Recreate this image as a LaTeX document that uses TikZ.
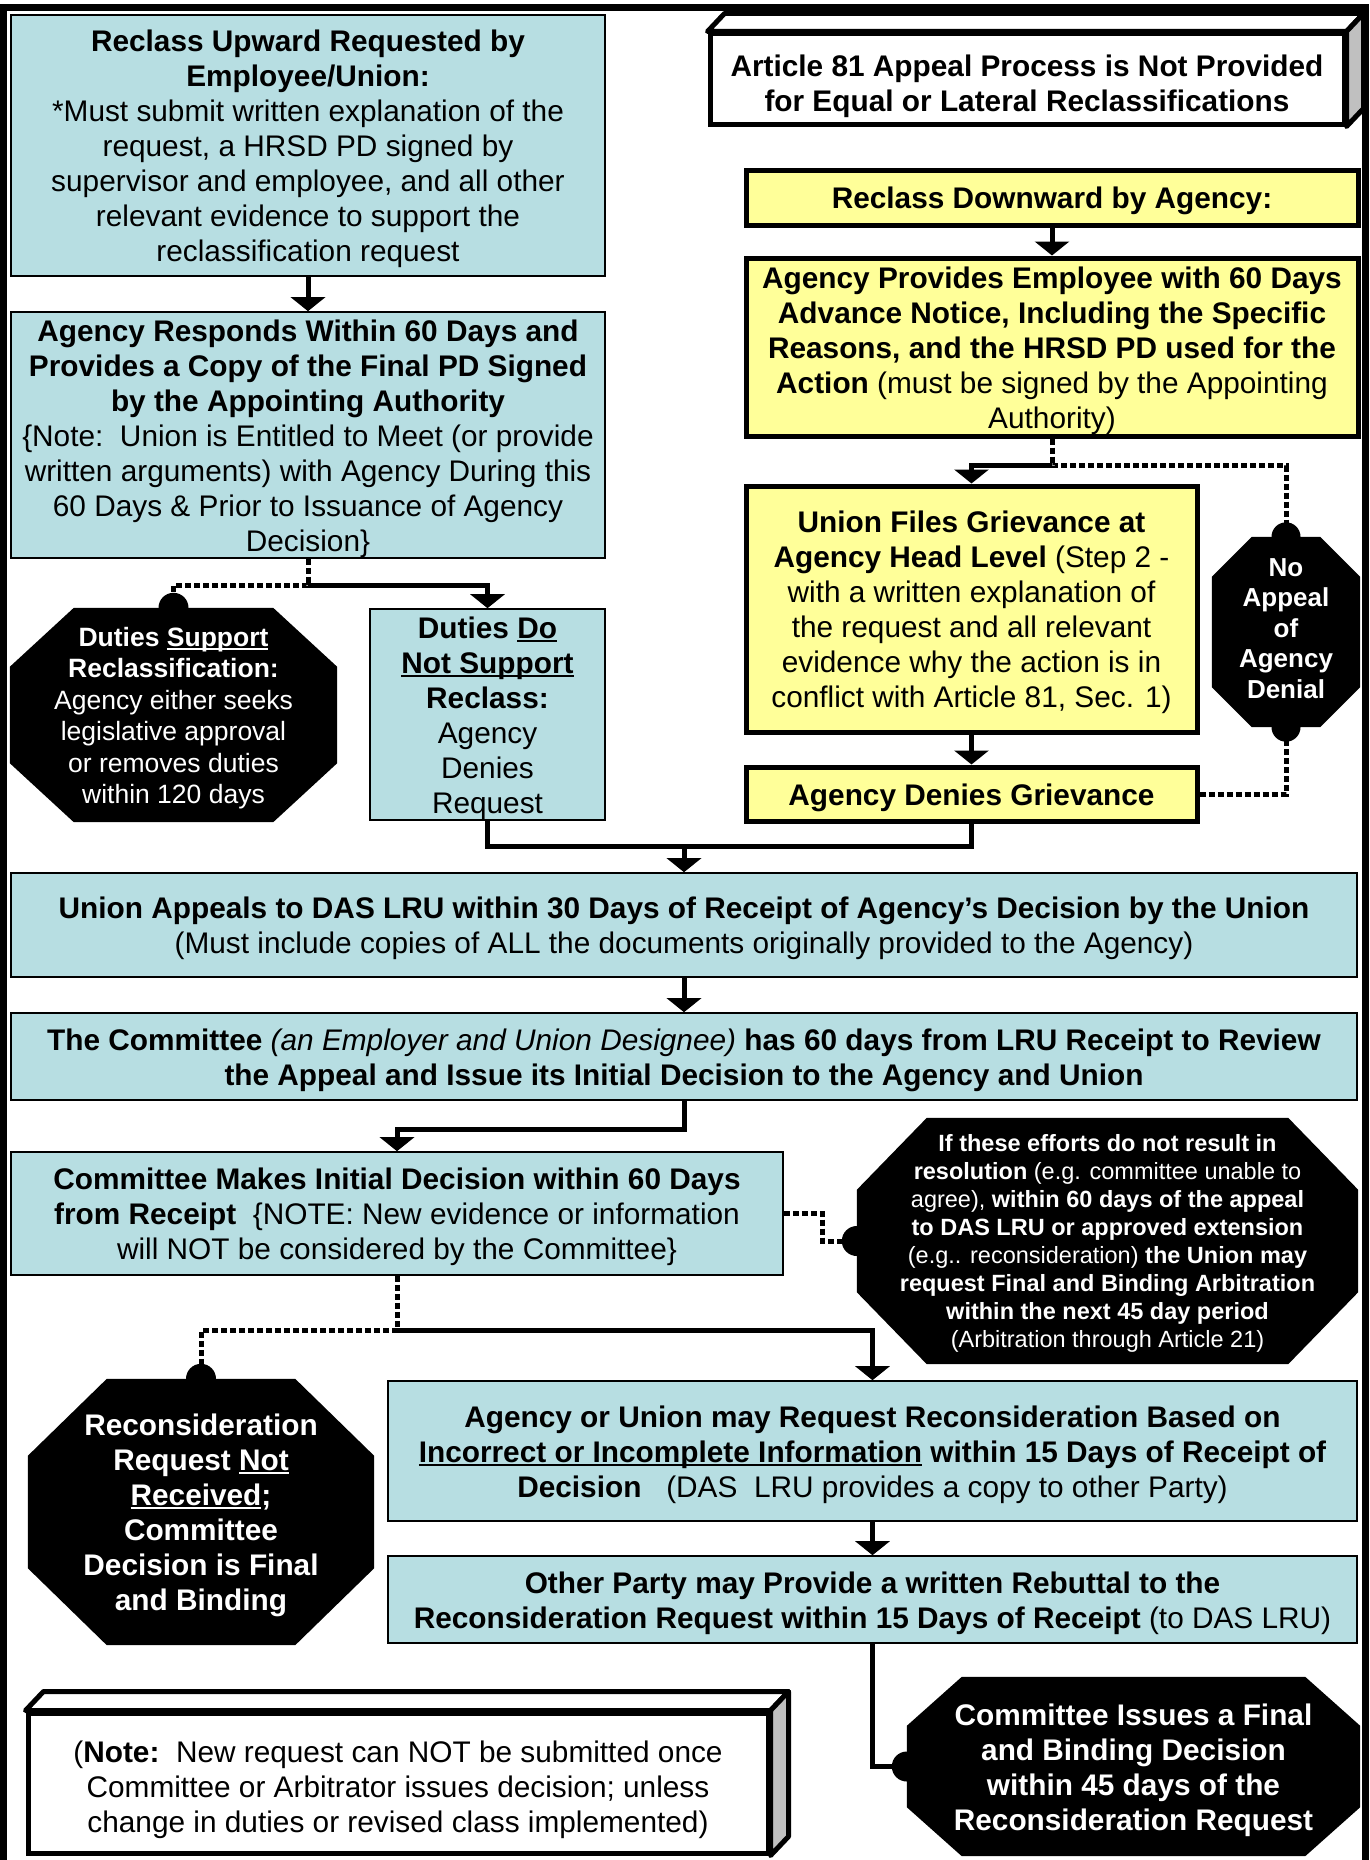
\documentclass[tikz,border=0pt]{standalone}
\usepackage{fontspec}
\setmainfont{Liberation Sans}
\usetikzlibrary{arrows.meta,calc,backgrounds}
\definecolor{boxteal}{RGB}{183,222,226}
\definecolor{boxyellow}{RGB}{255,255,153}
\definecolor{sidegray}{RGB}{192,192,192}
\newsavebox\ulbox
\newcommand\ulx[1]{\sbox\ulbox{#1}\rlap{\rule[-3.5pt]{\wd\ulbox}{2pt}}\usebox\ulbox}
\newcommand\topstr[1][0.96]{\rule{0pt}{#1em}}
\newcommand\botstr[1][0.22]{\rule[-#1em]{0pt}{#1em}}
\newcommand\octfill[3]{%
  \fill[black] ($(#1.north west)+(#2,0)$) -- ($(#1.north east)+(-#2,0)$) -- ($(#1.north east)+(0,#3)$) --
  ($(#1.south east)+(0,-#3)$) -- ($(#1.south east)+(-#2,0)$) -- ($(#1.south west)+(#2,0)$) --
  ($(#1.south west)+(0,-#3)$) -- ($(#1.north west)+(0,#3)$) -- cycle;}
\tikzset{
  base/.style={align=center, inner sep=0pt, font=\fontsize{29.8}{35}\selectfont},
  wh/.style 2 args={minimum width=#1pt, minimum height=#2pt},
  tbox/.style={base, rectangle, draw=black, line width=1.6pt, fill=boxteal},
  ybox/.style={base, rectangle, draw=black, line width=5pt, fill=boxyellow},
  wbox/.style={base, rectangle, draw=black, line width=5pt, fill=white},
  octo/.style={base, text=white},
  link/.style={line width=5pt},
  arr/.style={link, -{Triangle[width=34pt,length=14pt]}},
  dots/.style={line width=5pt, dash pattern=on 6pt off 3pt},
  face/.style={line width=5pt, line join=round},
}
\begin{document}
\begin{tikzpicture}[x=1pt,y=-1pt]
\useasboundingbox (0,0) rectangle (1370,1860);
% outer frame
\draw[line width=7pt] (3.5,1880) -- (3.5,7.5) -- (1365,7.5) -- (1365,1880);

% left column
\node[tbox, wh={594}{261}] (b1) at (308,145.5) {\topstr\textbf{Reclass Upward Requested by}\\ \textbf{Employee/Union:}\\ *Must submit written explanation of the\\ request, a HRSD PD signed by\\ supervisor and employee, and all other\\ relevant evidence to support the\\ reclassification request\botstr};
\node[tbox, wh={594}{246}] (b2) at (308,435) {\topstr\textbf{Agency Responds Within 60 Days and}\\ \textbf{Provides a Copy of the Final PD Signed}\\ \textbf{by the Appointing Authority}\\ \{Note:\ \ Union is Entitled to Meet (or provide\\ written arguments) with Agency During this\\ 60 Days \& Prior to Issuance of Agency\\ Decision\}\botstr};
\node[tbox, wh={235}{211}] (dd) at (487.5,714.5) {\topstr\textbf{Duties \ulx{Do}}\\ \textbf{\ulx{Not Support}}\\ \textbf{Reclass:}\\ Agency\\ Denies\\ Request\botstr};
\node[octo, wh={327}{214}, font=\fontsize{26.5}{31.5}\selectfont] (ds) at (173.5,715) {\topstr\textbf{Duties \ulx{Support}}\\ \textbf{Reclassification:}\\ Agency either seeks\\ legislative approval\\ or removes duties\\ within 120 days\botstr};

% right column
\node[wbox, wh={634}{90}] (art) at (1027,79) {\topstr[1.25]\textbf{Article 81 Appeal Process is Not Provided}\\ \textbf{for Equal or Lateral Reclassifications}\botstr};
\draw[face, fill=white] (art.north west) -- ++(17,-18) -- ($(art.north east)+(17,-18)$) -- (art.north east) -- cycle;
\draw[face, fill=sidegray] (art.north east) -- ++(17,-18) -- ($(art.south east)+(17,-18)$) -- (art.south east) -- cycle;

\node[ybox, wh={612}{55}] (rd) at (1052,197.5) {\topstr\textbf{Reclass Downward by Agency:}\botstr};
\node[ybox, wh={612}{178}] (ap) at (1052,347) {\topstr\textbf{Agency Provides Employee with 60 Days}\\ \textbf{Advance Notice, Including the Specific}\\ \textbf{Reasons, and the HRSD PD used for the}\\ \textbf{Action} (must be signed by the Appointing\\ Authority)\botstr};
\node[ybox, wh={451}{246}] (uf) at (971.5,609) {\topstr\textbf{Union Files Grievance at}\\ \textbf{Agency Head Level} (Step 2 -\\ with a written explanation of\\ the request and all relevant\\ evidence why the action is in\\ conflict with Article 81, Sec. 1)\botstr};
\node[ybox, wh={451}{54}] (ag) at (971.5,794) {\topstr\textbf{Agency Denies Grievance}\botstr};
\node[octo, wh={148}{190}, font=\fontsize{26}{30.5}\selectfont] (na) at (1286,632) {\topstr\textbf{No}\\ \textbf{Appeal}\\ \textbf{of}\\ \textbf{Agency}\\ \textbf{Denial}\botstr[0.56]};

% full-width boxes
\node[tbox, wh={1346}{104}] (ua) at (684,925) {\topstr\textbf{Union Appeals to DAS LRU within 30 Days of Receipt of Agency’s Decision by the Union}\\ (Must include copies of ALL the documents originally provided to the Agency)\botstr};
\node[tbox, wh={1346}{87}] (cm1) at (684,1056.5) {\topstr\textbf{The Committee} \textit{(an Employer and Union Designee)} \textbf{has 60 days from LRU Receipt to Review}\\ \textbf{the Appeal and Issue its Initial Decision to the Agency and Union}\botstr};
\node[tbox, wh={772}{123}] (cmk) at (397,1213.5) {\topstr\textbf{Committee Makes Initial Decision within 60 Days}\\ \textbf{from Receipt}\ \ \{NOTE: New evidence or information\\ will NOT be considered by the Committee\}\botstr};
\node[octo, wh={501}{246}, font=\fontsize{23.5}{28}\selectfont] (ie) at (1107.5,1241) {\topstr\textbf{If these efforts do not result in}\\ \textbf{resolution} (e.g. committee unable to\\ agree), \textbf{within 60 days of the appeal}\\ \textbf{to DAS LRU or approved extension}\\ (e.g.. reconsideration) \textbf{the Union may}\\ \textbf{request Final and Binding Arbitration}\\ \textbf{within the next 45 day period}\\ (Arbitration through Article 21)\botstr};
\node[octo, wh={346}{266}] (rn) at (201,1512) {\topstr\textbf{Reconsideration}\\ \textbf{Request \ulx{Not}}\\ \textbf{\ulx{Received};}\\ \textbf{Committee}\\ \textbf{Decision is Final}\\ \textbf{and Binding}\botstr};
\node[tbox, wh={969}{140}] (ar) at (872.5,1451) {\topstr\textbf{Agency or Union may Request Reconsideration Based on}\\ \textbf{\ulx{Incorrect or Incomplete Information} within 15 Days of Receipt of}\\ \textbf{Decision}\ \ \ (DAS\ \ LRU provides a copy to other Party)\botstr};
\node[tbox, wh={969}{87}] (op) at (872.5,1599.5) {\topstr\textbf{Other Party may Provide a written Rebuttal to the}\\ \textbf{Reconsideration Request within 15 Days of Receipt} (to DAS LRU)\botstr};
\node[octo, wh={453}{179}] (ci) at (1133.5,1766.5) {\topstr\textbf{Committee Issues a Final}\\ \textbf{and Binding Decision}\\ \textbf{within 45 days of the}\\ \textbf{Reconsideration Request}\botstr};
\node[wbox, wh={740}{140}] (nt) at (398,1783) {\topstr[1.2](\textbf{Note:}\ \ New request can NOT be submitted once\\ Committee or Arbitrator issues decision; unless\\ change in duties or revised class implemented)\botstr};
\draw[face, fill=white] (nt.north west) -- ++(18,-19) -- ($(nt.north east)+(18,-19)$) -- (nt.north east) -- cycle;
\draw[face, fill=sidegray] (nt.north east) -- ++(18,-19) -- ($(nt.south east)+(18,-19)$) -- (nt.south east) -- cycle;

% octagon bodies
\begin{scope}[on background layer]
\octfill{ds}{64}{59}
\octfill{na}{40}{40}
\octfill{ie}{70}{72}
\octfill{rn}{79}{77}
\octfill{ci}{55}{49}
\end{scope}

% connectors
\draw[arr] (b1.south) -- (b2.north);
\coordinate (jb2) at ($(b2.south)+(0,27)$);
\draw[arr] (jb2) -| (dd.north);
\draw[dots] (b2.south) -- (jb2) -| (ds.north);
\fill (ds.north) circle[radius=15];

\draw[arr] (rd.south) -- (ap.north);
\coordinate (jap) at ($(ap.south)+(0,27)$);
\draw[arr] (jap) -| (uf.north);
\draw[dots] (ap.south) -- (jap) -| (na.north);
\fill (na.north) circle[radius=14.5];
\draw[arr] (uf.south) -- (ag.north);
\draw[dots] (ag.east) -| (na.south);
\fill (na.south) circle[radius=14.5];

\coordinate (mrg) at ($(ua.north)+(0,-26)$);
\draw[link] (dd.south) |- (mrg);
\draw[link] (ag.south) |- (mrg);
\draw[arr] (mrg) -- (ua.north);
\draw[arr] (ua.south) -- (cm1.north);
\draw[arr] (cm1.south) -- ++(0,29) -| (cmk.north);

\coordinate (jcm) at ($(cmk.south)+(0,55)$);
\draw[arr] (jcm) -| (ar.north);
\draw[dots] (cmk.south) -- (jcm) -| (rn.north);
\fill (rn.north) circle[radius=15];
\draw[dots] (cmk.east) -- ++(39,0) |- (ie.west);
\fill (ie.west) circle[radius=15];
\draw[arr] (ar.south) -- (op.north);
\draw[link] (op.south) |- (ci.west);
\fill (ci.west) circle[radius=15];
\end{tikzpicture}
\end{document}
